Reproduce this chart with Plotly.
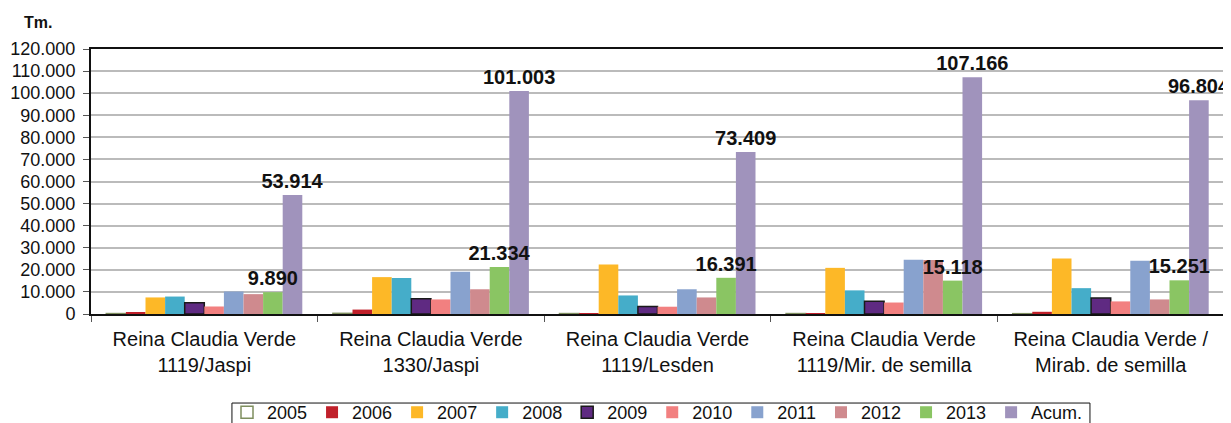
import plotly.graph_objects as go

categories = [
    "Reina Claudia Verde<br>1119/Jaspi",
    "Reina Claudia Verde<br>1330/Jaspi",
    "Reina Claudia Verde<br>1119/Lesden",
    "Reina Claudia Verde<br>1119/Mir. de semilla",
    "Reina Claudia Verde /<br>Mirab. de semilla",
]
series_names = ["2005", "2006", "2007", "2008", "2009", "2010", "2011", "2012", "2013", "Acum."]

v2005 = [200, 300, 200, 200, 150]
v2006 = [600, 2000, 400, 400, 1000]
v2007 = [7500, 16700, 22400, 20900, 25100]
v2008 = [7900, 16300, 8400, 10700, 11700]
v2009 = [5100, 6900, 3400, 5800, 7200]
v2010 = [3400, 6600, 3300, 5200, 5700]
v2011 = [10200, 19100, 11200, 24600, 24100]
v2012 = [9000, 11200, 7500, 24400, 6600]
v2013 = [9890, 21334, 16391, 15118, 15251]
vAcum = [53914, 101003, 73409, 107166, 96804]

series_values = [v2005, v2006, v2007, v2008, v2009, v2010, v2011, v2012, v2013, vAcum]
fills = ["#FFFFFF", "#C0202A", "#FDB827", "#45ADC9", "#5F2A82",
         "#F28080", "#88A2CE", "#CF8A8E", "#8AC563", "#A093BC"]
outlines = ["#7F8F5F", "#C0202A", "#FDB827", "#45ADC9", "#1A1A1A",
            "#F28080", "#88A2CE", "#CF8A8E", "#8AC563", "#A093BC"]
labelled = {"2013", "Acum."}

FONT = "Arial, 'Liberation Sans', sans-serif"

# page body has an 8px margin: the figure is sized/placed to compensate
W, H = 1223, 415
ML, MR, MT, MB = 83, 7, 41, 109

fig = go.Figure()
# visible bars
for name, vals, fc, lc in zip(series_names, series_values, fills, outlines):
    fig.add_trace(go.Bar(
        name=name,
        x=categories,
        y=vals,
        marker=dict(color=fc, line=dict(color=lc, width=1.5 if name in ("2005", "2009") else 0)),
        textposition="none",
    ))
# transparent twin bars on an overlaid axis, carrying the value labels on top of all bars
for name, vals in zip(series_names, series_values):
    show_text = name in labelled
    fig.add_trace(go.Bar(
        name=name,
        x=categories,
        y=vals,
        xaxis="x2",
        yaxis="y2",
        showlegend=False,
        hoverinfo="skip",
        marker=dict(color="rgba(0,0,0,0)", line=dict(width=0)),
        texttemplate="<b>%{y:,d}</b>" if show_text else None,
        textposition="outside" if show_text else "none",
        textfont=dict(family=FONT, size=20, color="#111111"),
        constraintext="none",
        cliponaxis=False,
    ))

fig.update_layout(
    barmode="group",
    bargap=0.135,
    bargroupgap=0,
    separators=",.",
    width=W,
    height=H,
    margin=dict(l=ML, r=MR, t=MT, b=MB, autoexpand=False),
    paper_bgcolor="white",
    plot_bgcolor="white",
    font=dict(family=FONT, color="#111111"),
    showlegend=True,
    legend=dict(
        orientation="h",
        x=0.5, xanchor="center",
        y=-0.302, yanchor="top",
        font=dict(family=FONT, size=18, color="#111111"),
        borderwidth=0,
        bgcolor="rgba(0,0,0,0)",
        itemwidth=30,
        traceorder="normal",
    ),
    xaxis=dict(
        type="category",
        tickson="boundaries",
        ticks="outside",
        ticklen=6,
        tickcolor="#555555",
        showline=True,
        linecolor="#111111",
        linewidth=2,
        mirror=True,
        tickfont=dict(family=FONT, size=20, color="#111111"),
        ticklabelstandoff=6,
        showgrid=False,
    ),
    xaxis2=dict(type="category", overlaying="x", visible=False, showgrid=False),
    yaxis=dict(
        range=[0, 120000],
        dtick=10000,
        tickformat=",d",
        ticks="outside",
        ticklen=6,
        tickcolor="#555555",
        showline=True,
        linecolor="#111111",
        linewidth=2,
        mirror=True,
        showgrid=True,
        gridcolor="#BBBBBB",
        gridwidth=1.5,
        tickfont=dict(family=FONT, size=18, color="#111111"),
        ticklabelstandoff=4,
        zeroline=False,
    ),
    yaxis2=dict(range=[0, 120000], overlaying="y", visible=False, showgrid=False, zeroline=False),
    annotations=[dict(
        text="<b>Tm.</b>", xref="paper", yref="paper", x=-0.047, y=1.062,
        xanchor="center", yanchor="bottom", showarrow=False,
        font=dict(family=FONT, size=16, color="#111111"),
    )],
    shapes=[dict(
        # legend frame
        type="rect", xref="paper", yref="paper",
        x0=0.1244, x1=0.8817, y0=-0.336, y1=-0.55,
        line=dict(color="#111111", width=1), fillcolor="rgba(0,0,0,0)", layer="below",
    )],
)

fig.write_html("out.html")
